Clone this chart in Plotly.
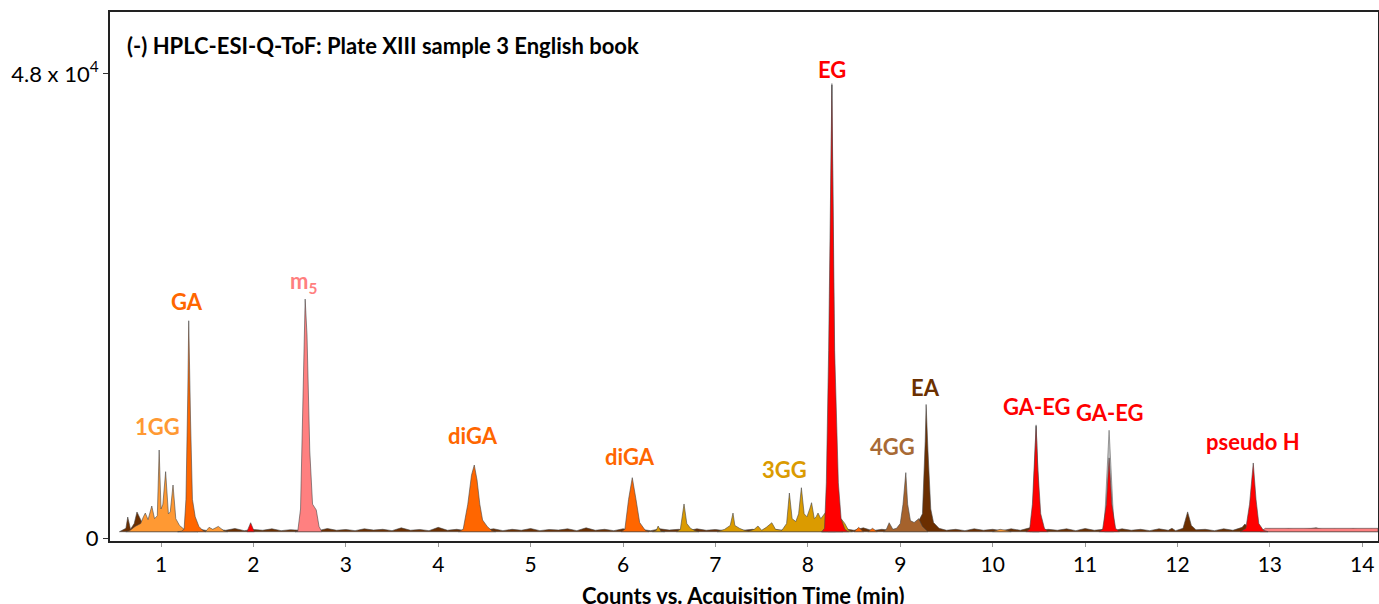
import plotly.graph_objects as go

# ---------------- data (time in min, counts) ----------------
BASE = 650  # chromatogram baseline level (counts)

ea_t = [0.55, 0.58, 0.62, 0.64, 0.67, 0.71, 0.74, 0.78, 0.82, 0.9, 1.0, 1.1, 1.2, 1.3, 1.4, 1.5, 1.6, 1.7,
        1.8, 1.9, 2.0, 2.1, 2.2, 2.3, 2.4, 2.5, 2.6, 2.7, 2.8, 2.9, 3.0, 3.1, 3.2, 3.3, 3.4, 3.5, 3.6, 3.7,
        3.8, 3.9, 4.0, 4.1, 4.2, 4.3, 4.4, 4.5, 4.6, 4.7, 4.8, 4.9, 5.0, 5.1, 5.2, 5.3, 5.4, 5.5, 5.6, 5.7,
        5.8, 5.9, 6.0, 6.1, 6.2, 6.3, 6.4, 6.5, 6.6, 6.7, 6.8, 6.9, 7.0, 7.1, 7.2, 7.3, 7.4, 7.5, 7.6, 7.7,
        7.8, 7.9, 8.0, 8.1, 8.2, 8.3, 8.4, 8.5, 8.6, 8.7, 8.8, 8.9, 9.0, 9.1, 9.15, 9.21, 9.24, 9.27, 9.28,
        9.30, 9.33, 9.36, 9.42, 9.5, 9.6, 9.7, 9.8, 9.9, 10.0, 10.1, 10.2, 10.3, 10.4, 10.5, 10.6, 10.7,
        10.8, 10.9, 11.0, 11.1, 11.2, 11.3, 11.4, 11.5, 11.6, 11.7, 11.8, 11.9, 11.94, 11.98, 12.06, 12.11,
        12.15, 12.2, 12.3, 12.4, 12.5, 12.6, 12.7, 12.73, 12.78, 12.9, 13.0, 13.1, 13.2, 13.3, 13.4, 13.5,
        13.6, 13.7, 13.8, 13.9, 14.0, 14.1, 14.17]
ea_y = [650, 800, 1000, 2170, 900, 1500, 2690, 1900, 1000, 800, 900, 760, 880, 800, 950, 760, 900, 800,
        980, 760, 880, 800, 950, 760, 860, 800, 900, 760, 980, 800, 880, 760, 950, 820, 900, 760, 1050,
        800, 880, 760, 1100, 800, 900, 760, 880, 820, 950, 760, 900, 800, 980, 760, 880, 820, 950, 760,
        1050, 800, 900, 760, 950, 800, 880, 760, 950, 820, 900, 760, 950, 800, 880, 760, 980, 800, 900,
        760, 950, 800, 880, 760, 980, 800, 900, 760, 950, 800, 1050, 760, 900, 800, 950, 880, 1100,
        1960, 2500, 10000, 13810, 9000, 3000, 1600, 1000, 800, 900, 760, 950, 800, 900, 760, 950, 800,
        1050, 760, 900, 800, 950, 760, 980, 800, 900, 760, 950, 800, 900, 760, 950, 800, 1000, 760,
        1000, 2700, 1300, 850, 900, 760, 950, 800, 1100, 1450, 900, 800, 900, 760, 950, 800, 900, 1050,
        800, 900, 760, 950, 800, 900, 650]

gg4_t = [8.82, 8.85, 8.88, 8.92, 8.96, 9.00, 9.03, 9.06, 9.08, 9.11, 9.15, 9.20, 9.24, 9.30]
gg4_y = [650, 900, 1580, 900, 1000, 1500, 3500, 6760, 3500, 1800, 1600, 2000, 1200, 650]

gg3_t = [6.32, 6.36, 6.38, 6.41, 6.45, None,
         6.58, 6.62, 6.66, 6.69, 6.73, 6.78, 6.82, None,
         7.02, 7.06, 7.10, 7.13, 7.16, 7.19, 7.21, 7.26, 7.31, 7.36, 7.42, 7.46, 7.50, 7.55, 7.61, 7.65,
         7.72, 7.77, 7.80, 7.83, 7.87, 7.90, 7.93, 7.96, 7.99, 8.02, 8.04, 8.07, 8.09, 8.11, 8.14, 8.18,
         8.22, 8.30, 8.36, 8.40, 8.44, 8.48]
gg3_y = [650, 800, 1240, 700, 650, None,
         650, 900, 3520, 1500, 1000, 750, 650, None,
         650, 750, 900, 1100, 1300, 2580, 1300, 1000, 800, 700, 900, 1240, 800, 1100, 1580, 900,
         800, 1500, 4650, 2000, 1700, 2500, 5200, 2500, 2200, 3000, 3650, 2000, 2200, 2580, 2000, 2500,
         3000, 2500, 2000, 1500, 800, 650]

gg1_t = [0.62, 0.66, 0.72, 0.78, 0.81, 0.83, 0.86, 0.90, 0.93, 0.96, 0.98, 1.00, 1.02, 1.05, 1.08,
         1.10, 1.13, 1.16, 1.20, 1.25, 1.30, 1.35, 1.40, None,
         1.48, 1.52, 1.56, 1.62, 1.68, 1.72, None,
         10.0, 10.08, 10.14, 10.2]
gg1_y = [650, 750, 1200, 1500, 2200, 2580, 1900, 3310, 2000, 2300, 9100, 3000, 3500, 6860, 2500,
         2700, 5480, 2000, 1300, 900, 800, 700, 650, None,
         650, 1100, 900, 1200, 750, 650, None,
         650, 900, 800, 650]

ga_t = [1.18, 1.22, 1.25, 1.27, 1.29, 1.30, 1.32, 1.34, 1.37, 1.41, 1.45, 1.48, None,
        4.22, 4.27, 4.32, 4.36, 4.39, 4.42, 4.45, 4.48, 4.53, 4.58, 4.62, None,
        5.98, 6.02, 6.06, 6.10, 6.14, 6.18, 6.24, 6.28, None,
        8.15, 8.22, 8.27, 8.32, 8.38, None,
        8.50, 8.55, 8.60, None,
        8.65, 8.70, 8.75, None,
        10.40, 10.45, 10.50]
ga_y = [650, 700, 900, 4000, 15000, 22470, 12000, 4000, 2200, 1200, 800, 650, None,
        650, 900, 3500, 6500, 7550, 6000, 3500, 1860, 1200, 750, 650, None,
        650, 900, 4000, 6240, 4000, 1600, 800, 650, None,
        650, 900, 2200, 900, 650, None,
        650, 1100, 650, None,
        650, 1000, 650, None,
        650, 1300, 650]

m5_t = [2.45, 2.48, 2.51, 2.54, 2.56, 2.58, 2.61, 2.64, 2.68, 2.71, 2.74, None,
        12.90, 12.95, 13.5, 14.17]
m5_y = [650, 700, 3000, 15000, 24710, 21000, 9000, 3500, 2900, 1200, 650, None,
        650, 1000, 1000, 1000]

gray_t = [8.22, 8.26, 8.30, None, 10.43, 10.47, 10.51, None, 11.21, 11.26, 11.31]
gray_y = [1500, 47000, 1500, None, 1500, 11700, 1500, None, 1500, 11140, 1500]

eg_t = [1.93, 1.97, 2.01, None,
        8.15, 8.18, 8.20, 8.225, 8.26, 8.29, 8.33, 8.36, 8.40, 8.44, None,
        10.36, 10.40, 10.43, 10.45, 10.47, 10.49, 10.52, 10.56, 10.60, None,
        11.15, 11.19, 11.23, 11.26, 11.29, 11.33, 11.37, None,
        12.68, 12.74, 12.78, 12.82, 12.85, 12.88, 12.93, 12.98]
eg_y = [650, 1580, 650, None,
        650, 1000, 5700, 19400, 46850, 19400, 5700, 2000, 900, 650, None,
        650, 900, 3500, 7500, 11570, 7000, 2500, 1000, 650, None,
        650, 900, 3500, 8290, 3500, 1000, 650, None,
        650, 1000, 3500, 7760, 4000, 1500, 800, 650]

# peak labels
label_text = ["1GG", "GA", "m<sub>5</sub>", "diGA", "diGA", "3GG", "EG", "4GG", "EA",
              "GA-EG", "GA-EG", "pseudo H"]
label_x = [0.96, 1.28, 2.54, 4.38, 6.08, 7.75, 8.26, 8.92, 9.27, 10.48, 11.27, 12.82]
label_y = [11580, 24500, 26470, 10650, 8480, 7130, 48500, 9510, 15610, 13550, 12930, 9930]
label_color = ["#FF9933", "#FF6600", "#FF7F7F", "#FF6600", "#FF6600", "#DB9B00", "#FF0000",
               "#A86A35", "#6B3000", "#FF0000", "#FF0000", "#FF0000"]

x_ticks = [1, 2, 3, 4, 5, 6, 7, 8, 9, 10, 11, 12, 13, 14]
y_tickvals = [0, 48000]
y_ticktext = ["0", "4.8 x 10<sup>4</sup>"]


def closed(t, y, base=BASE):
    """Close each gap-separated segment down to the baseline so it can be filled."""
    xs, ys, st, sy = [], [], [], []
    for a, b in list(zip(t, y)) + [(None, None)]:
        if a is None:
            if st:
                xs += st + [st[-1], st[0], None]
                ys += sy + [base, base, None]
            st, sy = [], []
        else:
            st.append(a)
            sy.append(b)
    return xs, ys


# ---------------- figure ----------------
fig = go.Figure()
outline = dict(color="rgba(70,70,70,0.85)", width=0.7)

series = [
    (ea_t, ea_y, "#6B2E00", outline),
    (gg4_t, gg4_y, "#A5622C", outline),
    (gg3_t, gg3_y, "#DB9B00", outline),
    (gg1_t, gg1_y, "#FF9933", outline),
    (ga_t, ga_y, "#FF6600", outline),
    (m5_t, m5_y, "#FF8080", outline),
    (gray_t, gray_y, "rgba(175,175,175,0.75)", dict(color="rgba(120,120,120,0.9)", width=0.8)),
    (eg_t, eg_y, "#FF0000", outline),
]
for t, y, c, ln in series:
    xs, ys = closed(t, y)
    fig.add_trace(go.Scatter(x=xs, y=ys, mode="lines", fill="toself", fillcolor=c,
                             line=ln, connectgaps=False, hoverinfo="skip", showlegend=False))

for txt, lx, ly, lc in zip(label_text, label_x, label_y, label_color):
    fig.add_annotation(x=lx, y=ly, text="<b>" + txt + "</b>", showarrow=False,
                       font=dict(family="Lato", size=22, color=lc),
                       xanchor="center", yanchor="middle")

fig.add_annotation(xref="paper", yref="paper", x=0.0118, y=0.9376,
                   text="<b>(-) HPLC-ESI-Q-ToF: Plate XIII sample 3 English book</b>",
                   showarrow=False, xanchor="left", yanchor="middle",
                   font=dict(family="Lato", size=22, color="black"))
fig.add_annotation(xref="paper", yref="paper", x=0.499, y=-0.103,
                   text="<b>Counts vs. Acquisition Time (min)</b>",
                   showarrow=False, xanchor="center", yanchor="middle",
                   font=dict(family="Lato", size=22, color="black"))

fig.update_xaxes(range=[0.448, 14.17], tickvals=x_ticks, ticks="outside", ticklen=4,
                 tickcolor="#999999", showgrid=False, zeroline=False, automargin=False,
                 showline=True, linecolor="#222222", linewidth=2, mirror=True,
                 tickfont=dict(family="Lato", size=21, color="black"))
fig.update_yaxes(range=[-310, 54400], tickvals=y_tickvals, ticktext=y_ticktext,
                 ticks="outside", ticklen=5, tickcolor="#333333", showgrid=False, zeroline=False,
                 automargin=False,
                 showline=True, linecolor="#222222", linewidth=2, mirror=True,
                 tickfont=dict(family="Lato", size=22, color="black"))

fig.update_layout(width=1379, height=604, margin=dict(l=110, r=1, t=12, b=63),
                  plot_bgcolor="white", paper_bgcolor="white")

# remove the default page margin so the figure fills the window exactly
fig.write_html("out.html",
               config={"displayModeBar": False},
               post_script="document.body.style.margin='0px';"
                           "document.body.style.overflow='hidden';")
